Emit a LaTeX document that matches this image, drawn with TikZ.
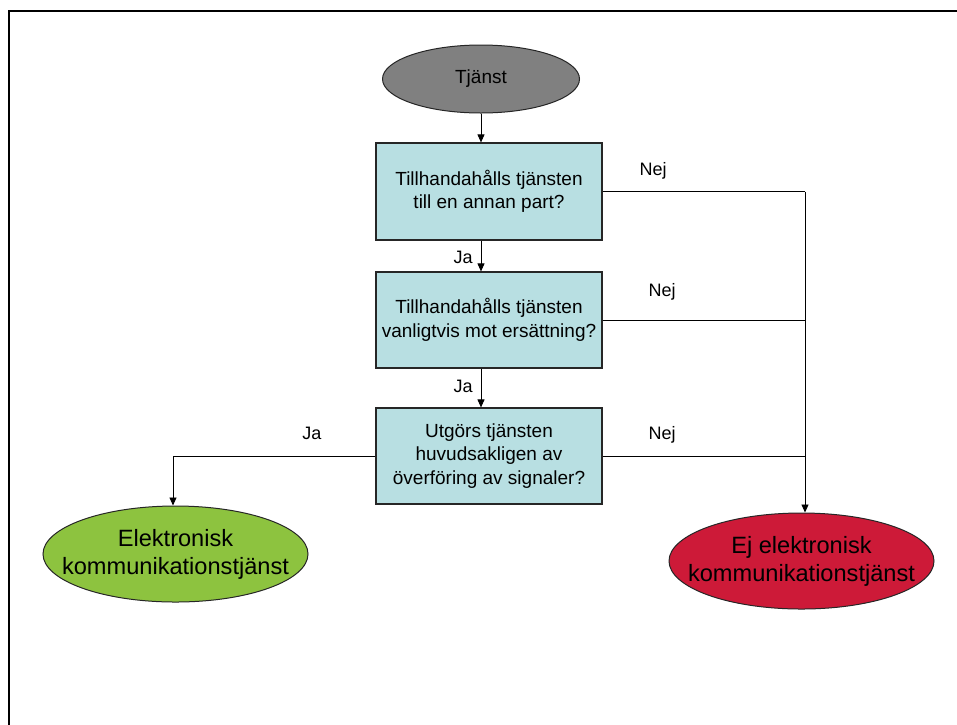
\documentclass[tikz,border=0pt]{standalone}
\usepackage{fontspec}
\setmainfont{Liberation Sans}
\usetikzlibrary{shapes.geometric,arrows.meta}
\definecolor{boxfill}{RGB}{184,223,226}
\definecolor{grayfill}{RGB}{128,128,128}
\definecolor{greenfill}{RGB}{141,195,63}
\definecolor{redfill}{RGB}{205,26,56}
\tikzset{
  qbox/.style={draw=black!85, line width=1.2pt, fill=boxfill, rectangle, minimum width=226pt, minimum height=96pt, inner sep=0pt, align=center, font=\fontsize{19}{23.5}\selectfont},
  oval/.style={draw=black!85, line width=1pt, ellipse, inner sep=0pt},
  bigtxt/.style={align=center, inner sep=0pt, font=\fontsize{23.6}{28}\selectfont},
  conn/.style={draw=black, line width=0.9pt},
  arr/.style={conn, -{Triangle[width=7pt,length=8pt]}},
  lbl/.style={anchor=base, inner sep=0pt, font=\fontsize{18}{22}\selectfont}
}
\begin{document}
\begin{tikzpicture}[x=1pt,y=-1pt]
\useasboundingbox (0,0) rectangle (957,724);
\fill[white] (0,0) rectangle (957,724);
% frame
\draw[line width=2.5pt, line cap=rect] (9,724) -- (9,11) -- (957,11);
% nodes
\node[oval, fill=grayfill, minimum width=197pt, minimum height=68pt] (tj) at (481,79) {};
\node[inner sep=0pt, font=\fontsize{19}{23.5}\selectfont] (tjt) at (tj.center) {Tjänst};
\node[qbox, minimum height=97pt] (b1) at (489,191.5) {Tillhandahålls tjänsten\\till en annan part?};
\node[qbox] (b2) at (489,320) {Tillhandahålls tjänsten\\vanligtvis mot ersättning?};
\node[qbox] (b3) at (489,456) {Utgörs tjänsten\\huvudsakligen av\\överföring av signaler?};
\node[oval, fill=greenfill, minimum width=265pt, minimum height=96pt] (yes) at (175.5,554) {};
\node[bigtxt] (yest) at (yes.center) {Elektronisk\\kommunikationstjänst};
\node[oval, fill=redfill, minimum width=265pt, minimum height=96pt] (no) at (801.5,561) {};
\node[bigtxt] (not) at (no.center) {Ej elektronisk\\kommunikationstjänst};
\coordinate (rx) at (805,0);
\coordinate (lx) at (173,0);
% connectors
\draw[arr] (tj.south) -- (tj.south |- b1.north);
\draw[arr] (tj.south |- b1.south) -- (tj.south |- b2.north);
\draw[arr] (tj.south |- b2.south) -- (tj.south |- b3.north);
\draw[conn] (b1.east) -- (b1.east -| rx);
\draw[arr] (b1.east -| rx) -- (rx |- no.north);
\draw[conn] (b2.east) -- (b2.east -| rx);
\draw[conn] (b3.east) -- (b3.east -| rx);
\draw[arr] (b3.west) -- (b3.west -| lx) -- (lx |- yes.north);
% labels
\node[lbl] (n1) at (653,175) {Nej};
\node[lbl] (n2) at (662,296) {Nej};
\node[lbl] (n3) at (662,439) {Nej};
\node[lbl] (j1) at (463,263) {Ja};
\node[lbl] (j2) at (463,392) {Ja};
\node[lbl] (j3) at (312,439) {Ja};
\end{tikzpicture}
\end{document}
